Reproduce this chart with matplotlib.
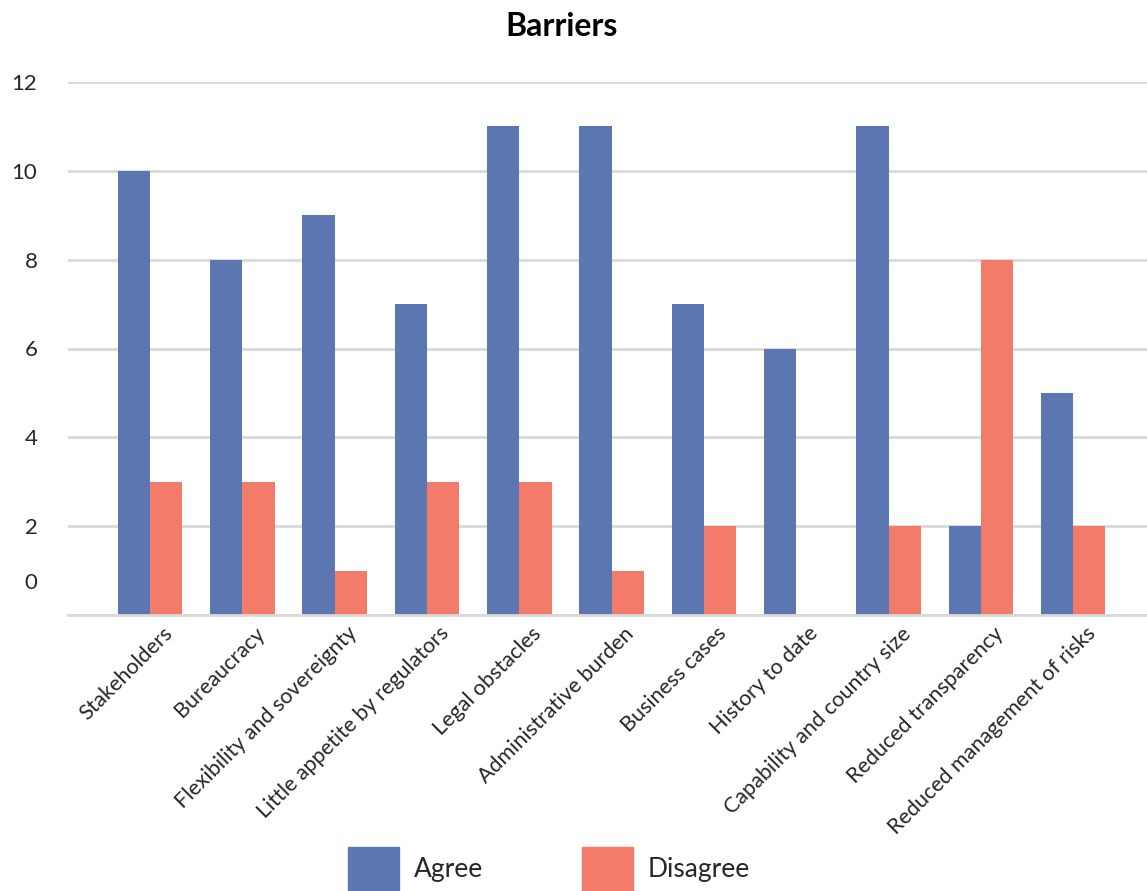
import numpy as np
import matplotlib
matplotlib.use("Agg")
import matplotlib.pyplot as plt
from matplotlib.patches import Patch
from matplotlib.transforms import ScaledTranslation

plt.rcParams["font.family"] = ["Lato", "DejaVu Sans"]

categories = ["Stakeholders", "Bureaucracy", "Flexibility and sovereignty",
              "Little appetite by regulators", "Legal obstacles",
              "Administrative burden", "Business cases", "History to date",
              "Capability and country size", "Reduced transparency",
              "Reduced management of risks"]
agree = [10, 8, 9, 7, 11, 11, 7, 6, 11, 2, 5]
disagree = [3, 3, 1, 3, 3, 1, 2, 0, 2, 8, 2]
yticks = [0, 2, 4, 6, 8, 10, 12]

blue = "#5B76B0"
coral = "#F27B6A"
grid_c = "#D9D9D9"
text_c = "#262626"

fig = plt.figure(figsize=(11.47, 8.91), dpi=100)
ax = fig.add_axes([68 / 1147, 276 / 891, 1 - 68 / 1147, (615 - 82) / 891])

x = np.arange(len(categories))
w = 0.35
ax.bar(x - w / 2, agree, w, color=blue, zorder=3)
ax.bar(x + w / 2, disagree, w, color=coral, zorder=3)

ax.set_xlim(-0.89, 10.8)
ax.set_ylim(0, 12)

ax.set_yticks(yticks)
ax.set_yticklabels([str(v) if v else "" for v in yticks], fontsize=16, color=text_c)
ax.tick_params(axis="y", length=0, pad=22)
# the zero label sits a little above the baseline
ax.annotate("0", xy=(0, 0), xycoords=("axes fraction", "data"),
            xytext=(-31, 32), textcoords="offset pixels",
            ha="right", va="center", fontsize=16, color=text_c)

ax.set_xticks(x)
ax.set_xticklabels(categories, rotation=45, ha="right", va="top",
                   rotation_mode="anchor", fontsize=15.5, color=text_c)
ax.tick_params(axis="x", length=0, pad=6)
shift = ScaledTranslation(0.12, 0, fig.dpi_scale_trans)
for lbl in ax.get_xticklabels():
    lbl.set_transform(lbl.get_transform() + shift)

ax.grid(axis="y", color=grid_c, linewidth=2, zorder=0)
for s in ["top", "right", "left"]:
    ax.spines[s].set_visible(False)
ax.spines["bottom"].set_color(grid_c)
ax.spines["bottom"].set_linewidth(2)
ax.spines["bottom"].set_zorder(4)

fig.suptitle("Barriers", fontsize=23, fontweight="bold", x=562 / 1147, y=1 - 27 / 891,
             va="center", color="black")

handles = [Patch(color=blue, label="Agree"), Patch(color=coral, label="Disagree")]
fig.legend(handles=handles, loc="center", bbox_to_anchor=(549 / 1147, 1 - 869 / 891),
           ncol=2, frameon=False, fontsize=19, handlelength=1.95, handleheight=2.2,
           handletextpad=0.55, columnspacing=3.75, labelcolor=text_c)

fig.savefig("out.png", dpi=100)
